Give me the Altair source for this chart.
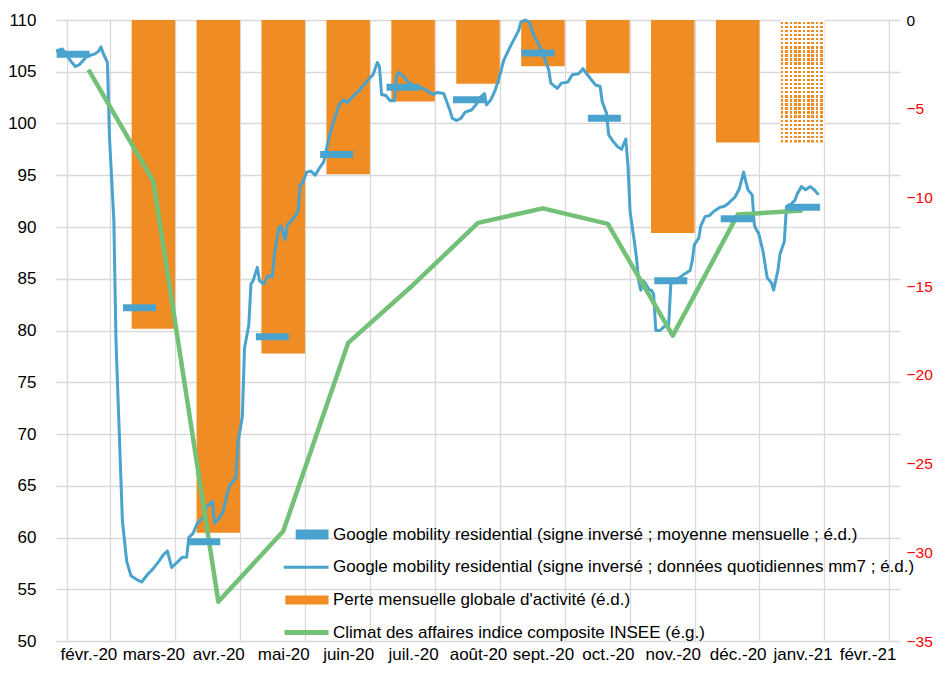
import altair as alt
import pandas as pd

# ---------------- data ----------------
MONTHS = ["févr.-20", "mars-20", "avr.-20", "mai-20", "juin-20", "juil.-20", "août-20",
          "sept.-20", "oct.-20", "nov.-20", "déc.-20", "janv.-21", "févr.-21"]

LOSS_MONTHS = ["mars-20", "avr.-20", "mai-20", "juin-20", "juil.-20", "août-20",
               "sept.-20", "oct.-20", "nov.-20", "déc.-20", "janv.-21"]
LOSS_VALUES = [-17.4, -28.9, -18.8, -8.7, -4.6, -3.6, -2.6, -3.0, -12.0, -6.9, -6.9]
LOSS_ESTIMATED = [False, False, False, False, False, False, False, False, False, False, True]

CLIMATE_MONTHS = ["févr.-20", "mars-20", "avr.-20", "mai-20", "juin-20", "juil.-20", "août-20",
                  "sept.-20", "oct.-20", "nov.-20", "déc.-20", "janv.-21"]
CLIMATE_VALUES = [105.2, 94.4, 53.8, 60.6, 78.8, 84.4, 90.4, 91.8, 90.3, 79.5, 91.2, 91.6]

MEAN_DATES = ["2020-02-09", "2020-03-11", "2020-04-10", "2020-05-12", "2020-06-11", "2020-07-12",
              "2020-08-12", "2020-09-13", "2020-10-14", "2020-11-14", "2020-12-15", "2021-01-15"]
MEAN_VALUES = [106.7, 82.2, 59.6, 79.4, 97.0, 103.5, 102.3, 106.8, 100.5, 84.8, 90.8, 91.9]

DAILY_DATES = [
    "2020-02-01", "2020-02-04", "2020-02-06", "2020-02-08", "2020-02-10", "2020-02-12", "2020-02-15",
    "2020-02-17", "2020-02-19", "2020-02-21", "2020-02-22", "2020-02-23", "2020-02-25", "2020-02-26",
    "2020-02-28", "2020-02-29", "2020-03-01", "2020-03-02", "2020-03-03", "2020-03-05", "2020-03-07",
    "2020-03-10", "2020-03-12", "2020-03-15", "2020-03-17", "2020-03-20", "2020-03-22", "2020-03-24",
    "2020-03-26", "2020-03-29", "2020-03-31", "2020-04-02", "2020-04-03", "2020-04-05", "2020-04-07",
    "2020-04-10", "2020-04-11", "2020-04-14", "2020-04-15", "2020-04-17", "2020-04-19", "2020-04-21",
    "2020-04-22", "2020-04-25", "2020-04-26", "2020-04-28", "2020-04-29", "2020-05-01", "2020-05-02",
    "2020-05-03", "2020-05-05", "2020-05-06", "2020-05-08", "2020-05-10", "2020-05-12", "2020-05-13",
    "2020-05-15", "2020-05-16", "2020-05-18", "2020-05-19", "2020-05-22", "2020-05-24", "2020-05-25",
    "2020-05-26", "2020-05-28", "2020-05-30", "2020-06-01", "2020-06-03", "2020-06-05", "2020-06-07",
    "2020-06-09", "2020-06-12", "2020-06-14", "2020-06-16", "2020-06-19", "2020-06-22", "2020-06-24",
    "2020-06-26", "2020-06-28", "2020-06-30", "2020-07-01", "2020-07-02", "2020-07-04", "2020-07-06",
    "2020-07-08", "2020-07-09", "2020-07-10", "2020-07-12", "2020-07-14", "2020-07-17", "2020-07-20",
    "2020-07-23", "2020-07-26", "2020-07-28", "2020-07-31", "2020-08-03", "2020-08-04", "2020-08-06",
    "2020-08-08", "2020-08-10", "2020-08-13", "2020-08-15", "2020-08-17", "2020-08-19", "2020-08-20",
    "2020-08-22", "2020-08-24", "2020-08-26", "2020-08-28", "2020-08-31", "2020-09-02", "2020-09-04",
    "2020-09-05", "2020-09-07", "2020-09-09", "2020-09-11", "2020-09-14", "2020-09-16", "2020-09-18",
    "2020-09-19", "2020-09-22", "2020-09-24", "2020-09-27", "2020-09-29", "2020-10-02", "2020-10-04",
    "2020-10-05", "2020-10-08", "2020-10-10", "2020-10-12", "2020-10-13", "2020-10-15", "2020-10-16",
    "2020-10-18", "2020-10-20", "2020-10-22", "2020-10-24", "2020-10-25", "2020-10-26", "2020-10-27",
    "2020-10-28", "2020-10-29", "2020-10-30", "2020-10-31", "2020-11-01", "2020-11-02", "2020-11-04",
    "2020-11-05", "2020-11-06", "2020-11-07", "2020-11-09", "2020-11-11", "2020-11-13", "2020-11-14",
    "2020-11-16", "2020-11-18", "2020-11-20", "2020-11-23", "2020-11-24", "2020-11-25", "2020-11-27",
    "2020-11-28", "2020-11-30", "2020-12-02", "2020-12-04", "2020-12-07", "2020-12-09", "2020-12-11",
    "2020-12-14", "2020-12-16", "2020-12-17", "2020-12-18", "2020-12-19", "2020-12-20", "2020-12-22",
    "2020-12-23", "2020-12-24", "2020-12-25", "2020-12-27", "2020-12-29", "2020-12-31", "2021-01-01",
    "2021-01-03", "2021-01-04", "2021-01-06", "2021-01-07", "2021-01-09", "2021-01-11", "2021-01-12",
    "2021-01-14", "2021-01-16", "2021-01-18", "2021-01-20", "2021-01-22",
]
DAILY_VALUES = [
    107.0, 107.2, 106.6, 106.0, 105.5, 105.7, 106.4,
    106.6, 106.7, 107.0, 107.4, 106.8, 105.9, 98.5,
    90.7, 79.0, 73.2, 67.4, 61.6, 57.7, 56.3,
    55.9, 55.7, 56.5, 56.9, 57.7, 58.3, 58.7,
    57.1, 57.7, 58.1, 58.1, 60.0, 60.4, 61.4,
    62.0, 62.9, 63.5, 61.4, 61.8, 62.5, 64.3,
    65.0, 65.8, 69.3, 71.7, 78.3, 80.5, 84.5,
    84.8, 86.1, 84.8, 84.5, 85.3, 85.2, 87.4,
    89.9, 90.1, 88.8, 90.2, 90.9, 91.5, 94.1,
    94.2, 95.3, 95.4, 95.0, 95.7, 96.3, 98.2,
    99.8, 101.7, 102.3, 102.0, 102.7, 103.3, 103.8,
    104.3, 104.7, 105.9, 105.5, 102.8, 102.7, 102.2,
    102.2, 104.7, 104.9, 104.6, 104.1, 103.6, 103.5,
    103.2, 102.8, 103.0, 102.9, 101.2, 100.5, 100.3,
    100.5, 101.1, 101.3, 101.8, 102.5, 102.9, 101.8,
    102.3, 103.2, 104.5, 106.1, 107.4, 108.2, 109.0,
    109.8, 110.0, 109.8, 108.5, 107.4, 106.3, 105.2,
    103.9, 103.4, 103.9, 104.0, 104.7, 104.8, 105.3,
    105.0, 104.2, 103.7, 103.6, 102.1, 101.0, 98.9,
    98.3, 97.8, 97.5, 98.5, 95.9, 91.5, 90.0,
    88.6, 87.0, 84.8, 83.9, 84.8, 84.6, 83.9,
    83.9, 83.5, 80.0, 80.0, 80.4, 80.5, 84.5,
    84.8, 85.1, 85.4, 85.8, 86.7, 88.3, 88.9,
    90.1, 91.0, 91.1, 91.5, 91.9, 92.0, 92.3,
    92.9, 93.7, 94.5, 95.3, 94.4, 93.6, 93.1,
    90.2, 89.7, 89.4, 87.7, 85.1, 84.6, 83.9,
    85.8, 87.4, 88.6, 92.0, 92.2, 92.6, 93.2,
    93.9, 93.6, 93.9, 93.6, 93.1,
]

SERIES_NAMES = [
    "Google mobility residential (signe inversé ; moyenne mensuelle ; é.d.)",
    "Google mobility residential (signe inversé ; données quotidiennes mm7 ; é.d.)",
    "Perte mensuelle globale d'activité (é.d.)",
    "Climat des affaires indice composite INSEE (é.g.)",
]

# ---------------- style ----------------
W, H = 844, 621
FONT = "Liberation Sans"
FS = 17
BLUE = "#4aa3cd"
ORANGE = "#f08c24"
GREEN = "#72c177"
GRID = "#d9d9d9"
START = pd.Timestamp("2020-02-01")
END = pd.Timestamp("2021-03-01")
NDAYS = (END - START).days

loss_df = pd.DataFrame({"month": LOSS_MONTHS, "loss": LOSS_VALUES, "estimated": LOSS_ESTIMATED})
climate_df = pd.DataFrame({"month": CLIMATE_MONTHS, "climate": CLIMATE_VALUES})
daily_df = pd.DataFrame({"date": DAILY_DATES, "value": DAILY_VALUES})
daily_df["day"] = (pd.to_datetime(daily_df["date"]) - START).dt.days
mean_df = pd.DataFrame({"date": MEAN_DATES, "mean": MEAN_VALUES})
mean_df["day"] = (pd.to_datetime(mean_df["date"]) - START).dt.days
legend_df = pd.DataFrame({"series": SERIES_NAMES})

band_scale = alt.Scale(domain=MONTHS, paddingInner=0.33, paddingOuter=0.165)
right_scale = alt.Scale(domain=[-35, 0], nice=False, zero=False)
left_scale = alt.Scale(domain=[50, 110], nice=False, zero=False)
day_scale = alt.Scale(domain=[0, NDAYS], nice=False, zero=False)

x_axis = alt.Axis(title=None, tickBand="extent", grid=True, gridColor=GRID, gridWidth=1.3,
                  ticks=False, domain=False, labelAngle=0, labelFont=FONT, labelFontSize=FS,
                  labelColor="black", labelPadding=5)
right_axis = alt.Axis(orient="right", title=None, values=list(range(-35, 1, 5)), grid=False,
                      ticks=False, tickSize=0, domain=False, labelFont=FONT, labelFontSize=15.5,
                      labelPadding=6, labelAlign="left",
                      labelColor={"condition": {"test": "datum.value == 0", "value": "black"},
                                  "value": "#ff0000"})
left_axis = alt.Axis(orient="left", title=None, values=list(range(50, 111, 5)), grid=True,
                     gridColor=GRID, gridWidth=1.3, ticks=False, tickSize=0, domain=False,
                     labelFont=FONT, labelFontSize=FS, labelColor="black", labelPadding=20)

bars = alt.Chart(loss_df).transform_filter("!datum.estimated").mark_bar(color=ORANGE).encode(
    x=alt.X("month:N", sort=MONTHS, scale=band_scale, axis=x_axis),
    y=alt.Y("loss:Q", scale=right_scale, axis=right_axis),
)

# dotted (estimated) bar: orange columns crossed by white rows
n_cols, n_rows = 10, 30
col_stops = []
for k in range(n_cols):
    a, b, c = k / n_cols, (k + 0.6) / n_cols, (k + 1) / n_cols
    col_stops += [alt.GradientStop(offset=a, color=ORANGE), alt.GradientStop(offset=b, color=ORANGE),
                  alt.GradientStop(offset=b, color="white"), alt.GradientStop(offset=c, color="white")]
row_stops = []
for k in range(n_rows):
    a, b, c = k / n_rows, (k + 0.4) / n_rows, (k + 1) / n_rows
    row_stops += [alt.GradientStop(offset=a, color="white"), alt.GradientStop(offset=b, color="white"),
                  alt.GradientStop(offset=b, color="rgba(255,255,255,0)"),
                  alt.GradientStop(offset=c, color="rgba(255,255,255,0)")]

dotted_a = alt.Chart(loss_df).transform_filter("datum.estimated").mark_bar(
    fill=alt.LinearGradient(gradient="linear", stops=col_stops, x1=0, x2=1, y1=0, y2=0)
).encode(
    x=alt.X("month:N", sort=MONTHS, scale=band_scale, axis=None),
    y=alt.Y("loss:Q", scale=right_scale, axis=None),
)
dotted_b = alt.Chart(loss_df).transform_filter("datum.estimated").mark_bar(
    fill=alt.LinearGradient(gradient="linear", stops=row_stops, x1=0, x2=0, y1=0, y2=1)
).encode(
    x=alt.X("month:N", sort=MONTHS, scale=band_scale, axis=None),
    y=alt.Y("loss:Q", scale=right_scale, axis=None),
)

daily = alt.Chart(daily_df).mark_line(color=BLUE, strokeWidth=3, strokeJoin="round").encode(
    x=alt.X("day:Q", scale=day_scale, axis=None),
    y=alt.Y("value:Q", scale=left_scale, axis=None),
)

climate = alt.Chart(climate_df).mark_line(color=GREEN, strokeWidth=4.5, strokeJoin="round").encode(
    x=alt.X("month:N", sort=MONTHS, scale=alt.Scale(domain=MONTHS), axis=None),
    y=alt.Y("climate:Q", scale=left_scale, axis=left_axis),
)

means = alt.Chart(mean_df).mark_tick(color=BLUE, orient="horizontal", size=33, thickness=7,
                                     opacity=1).encode(
    x=alt.X("day:Q", scale=day_scale, axis=None),
    y=alt.Y("mean:Q", scale=left_scale, axis=None),
)

PATHS = [
    "M-3.1,-0.62H1V0.62H-3.1Z",
    "M-4.6,-0.19H1V0.19H-4.6Z",
    "M-4.4,-0.56H1V0.56H-4.4Z",
    "M-4.5,-0.31H1V0.31H-4.5Z",
]
leg = alt.Legend(title=None, orient="none", legendX=256, legendY=506, symbolSize=256,
                 symbolStrokeWidth=0, labelFont=FONT, labelFontSize=FS, labelColor="black",
                 labelLimit=800, labelOffset=4, rowPadding=14.7, symbolOpacity=1)
legend_layer = alt.Chart(legend_df).mark_point(filled=True, clip=True, opacity=1).encode(
    x=alt.value(-200), y=alt.value(-200),
    color=alt.Color("series:N", sort=SERIES_NAMES,
                    scale=alt.Scale(domain=SERIES_NAMES, range=[BLUE, BLUE, ORANGE, GREEN]), legend=leg),
    shape=alt.Shape("series:N", sort=SERIES_NAMES,
                    scale=alt.Scale(domain=SERIES_NAMES, range=PATHS), legend=leg),
)

chart = alt.layer(bars, dotted_a, dotted_b, daily, climate, means, legend_layer).resolve_scale(
    x="independent", y="independent"
).properties(
    width=W, height=H,
    autosize=alt.AutoSizeParams(type="none"),
    padding={"left": 48, "top": 12, "right": 36, "bottom": 25},
).configure_view(stroke=None)

chart.save("out.html", embed_options={"renderer": "svg", "actions": False})
